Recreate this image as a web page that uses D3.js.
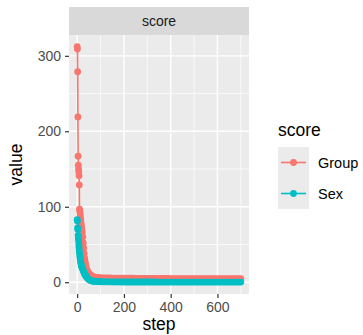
<!DOCTYPE html>
<html lang="en">
<head>
<meta charset="UTF-8">
<title>score</title>
<script src="https://cdn.jsdelivr.net/npm/d3@7"></script>
<style>
  body { margin: 0; background: #fff; }
  text { font-family: "Liberation Sans", Arial, sans-serif; }
</style>
</head>
<body>
<div id="chart"></div>
<script>
// steps shared by both series
var steps = [0,1,2,3,4,5,6,7,8,9,10,11,12,13,14,15,16,17,18,19,20,
  22,24,26,28,30,32,34,36,38,40,
  45,50,55,60,65,70,75,80,85,90,95,100,
  110,120,130,140,150,160,170,180,190,200,210,220,230,240,250,260,270,280,290,300,
  310,320,330,340,350,360,370,380,390,400,410,420,430,440,450,460,470,480,490,500,
  510,520,530,540,550,560,570,580,590,600,610,620,630,640,650,660,670,680,690,700];

var groupValues = [312,309,279,219,167,155,150,146,141,129,97,95,93,90,86,83,80,77,74,72,70,
  66,60,52,45,38,32,28,24,21,18,
  15,12,10.5,9,8,7.2,6.8,6.5,6.2,6,5.9,5.8,
  5.7,5.7,5.6,5.6,5.5,5.5,5.5,5.4,5.4,5.4,5.3,5.3,5.3,5.3,5.2,5.2,5.2,5.2,5.1,5.1,
  5.1,5.1,5.1,5.0,5.0,5.0,5.0,5.0,5.0,4.9,4.9,4.9,4.9,4.9,4.9,4.9,4.9,4.8,4.8,4.8,
  4.8,4.8,4.8,4.8,4.8,4.8,4.8,4.8,4.8,4.8,4.8,4.8,4.8,4.8,4.8,4.8,4.8,4.8,4.8,4.8];

var sexValues = [83,81,72,70,62,58,55,50,46,42,39,36,33,31,29,27,25,23,22,21,20,
  19,17,15.5,14,12.5,11,10,9,8,7,
  5,3.5,2.5,2,1.6,1.3,1.1,1,0.9,0.8,0.7,0.6,
  0.6,0.5,0.5,0.5,0.4,0.4,0.4,0.4,0.4,0.3,0.3,0.3,0.3,0.3,0.3,0.3,0.3,0.3,0.3,0.3,
  0.3,0.3,0.3,0.2,0.2,0.2,0.2,0.2,0.2,0.2,0.2,0.2,0.2,0.2,0.2,0.2,0.2,0.2,0.2,0.2,
  0.2,0.2,0.2,0.2,0.2,0.2,0.2,0.2,0.2,0.2,0.2,0.2,0.2,0.2,0.2,0.2,0.2,0.2,0.2,0.2];

var seriesNames = ["Group", "Sex"];
var seriesColors = ["#F8766D", "#00BFC4"];
var xTicks = [0, 200, 400, 600];
var yTicks = [0, 100, 200, 300];

var W = 363, H = 335;
var panel = {left: 69, right: 249, top: 35, bottom: 294};

var svg = d3.select("#chart").append("svg")
  .attr("width", W).attr("height", H);

// ggplot style 5% expansion
var xExt = [0, 700], yExt = [0, 312];
var xPad = (xExt[1] - xExt[0]) * 0.05, yPad = (yExt[1] - yExt[0]) * 0.05;
var x = d3.scaleLinear().domain([xExt[0] - xPad, xExt[1] + xPad]).range([panel.left, panel.right]);
var y = d3.scaleLinear().domain([yExt[0] - yPad, yExt[1] + yPad]).range([panel.bottom, panel.top]);

// strip
svg.append("rect")
  .attr("x", panel.left).attr("y", 7)
  .attr("width", panel.right - panel.left).attr("height", panel.top - 7)
  .attr("fill", "#D9D9D9");
svg.append("text")
  .attr("x", (panel.left + panel.right) / 2).attr("y", 26)
  .attr("text-anchor", "middle").attr("font-size", 14).attr("fill", "#1A1A1A")
  .text("score");

// panel background
svg.append("rect")
  .attr("x", panel.left).attr("y", panel.top)
  .attr("width", panel.right - panel.left).attr("height", panel.bottom - panel.top)
  .attr("fill", "#EBEBEB");

var grid = svg.append("g");
[50, 150, 250].forEach(function(v) {
  grid.append("line").attr("x1", panel.left).attr("x2", panel.right)
    .attr("y1", y(v)).attr("y2", y(v)).attr("stroke", "#fff").attr("stroke-width", 0.7);
});
[100, 300, 500, 700].forEach(function(v) {
  grid.append("line").attr("y1", panel.top).attr("y2", panel.bottom)
    .attr("x1", x(v)).attr("x2", x(v)).attr("stroke", "#fff").attr("stroke-width", 0.7);
});
yTicks.forEach(function(v) {
  grid.append("line").attr("x1", panel.left).attr("x2", panel.right)
    .attr("y1", y(v)).attr("y2", y(v)).attr("stroke", "#fff").attr("stroke-width", 1.4);
});
xTicks.forEach(function(v) {
  grid.append("line").attr("y1", panel.top).attr("y2", panel.bottom)
    .attr("x1", x(v)).attr("x2", x(v)).attr("stroke", "#fff").attr("stroke-width", 1.4);
});

// axes
var xAxis = svg.append("g")
  .attr("transform", "translate(0," + panel.bottom + ")")
  .call(d3.axisBottom(x).tickValues(xTicks).tickSize(4).tickPadding(4));
var yAxis = svg.append("g")
  .attr("transform", "translate(" + panel.left + ",0)")
  .call(d3.axisLeft(y).tickValues(yTicks).tickSize(4).tickPadding(4));
[xAxis, yAxis].forEach(function(a) {
  a.select(".domain").remove();
  a.selectAll(".tick line").attr("stroke", "#333").attr("stroke-width", 1.2);
  a.selectAll(".tick text").attr("fill", "#4D4D4D").attr("font-size", 14)
    .attr("font-family", "Liberation Sans, Arial, sans-serif");
});

// axis titles
svg.append("text")
  .attr("x", (panel.left + panel.right) / 2).attr("y", 330)
  .attr("text-anchor", "middle").attr("font-size", 17.5).attr("fill", "#000")
  .text("step");
svg.append("text")
  .attr("transform", "translate(22," + ((panel.top + panel.bottom) / 2) + ") rotate(-90)")
  .attr("text-anchor", "middle").attr("font-size", 17.5).attr("fill", "#000")
  .text("value");

// series
var series = [groupValues, sexValues];
var line = d3.line()
  .x(function(d) { return x(d[0]); })
  .y(function(d) { return y(d[1]); });

series.forEach(function(vals, i) {
  var pts = steps.map(function(s, j) { return [s, vals[j]]; });
  svg.append("path")
    .datum(pts)
    .attr("d", line)
    .attr("fill", "none")
    .attr("stroke", seriesColors[i])
    .attr("stroke-width", 1.6);
  svg.append("g").selectAll("circle")
    .data(pts).enter().append("circle")
    .attr("cx", function(d) { return x(d[0]); })
    .attr("cy", function(d) { return y(d[1]); })
    .attr("r", 3.4)
    .attr("fill", seriesColors[i]);
});

// legend
var legend = svg.append("g");
legend.append("text")
  .attr("x", 278).attr("y", 136)
  .attr("font-size", 17.5).attr("fill", "#000")
  .text("score");
seriesNames.forEach(function(name, i) {
  var cy = 162.5 + i * 31;
  legend.append("rect")
    .attr("x", 278).attr("y", cy - 15.5)
    .attr("width", 31).attr("height", 31)
    .attr("fill", "#EBEBEB");
  legend.append("line")
    .attr("x1", 281).attr("x2", 306).attr("y1", cy).attr("y2", cy)
    .attr("stroke", seriesColors[i]).attr("stroke-width", 1.6);
  legend.append("circle")
    .attr("cx", 293.5).attr("cy", cy).attr("r", 3.4)
    .attr("fill", seriesColors[i]);
  legend.append("text")
    .attr("x", 318).attr("y", cy + 5)
    .attr("font-size", 14.5).attr("fill", "#000")
    .text(name);
});
</script>
</body>
</html>
